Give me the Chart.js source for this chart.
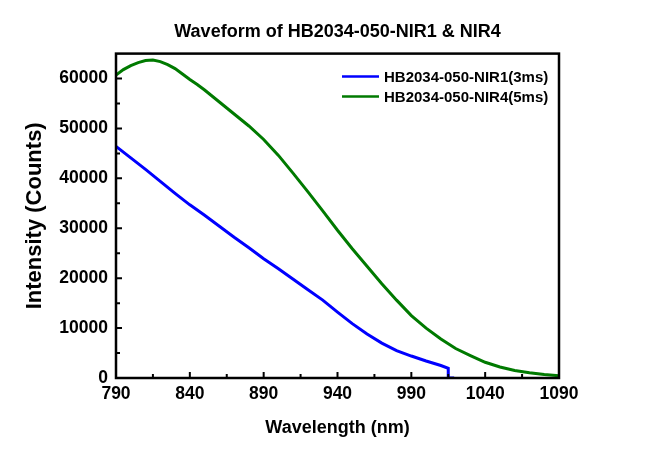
<!DOCTYPE html>
<html>
<head>
<meta charset="utf-8">
<title>Waveform of HB2034-050-NIR1 & NIR4</title>
<script src="https://cdn.jsdelivr.net/npm/chart.js@4.4.1/dist/chart.umd.min.js"></script>
<style>
  html, body { margin: 0; padding: 0; background: #fff; }
  #wrap { width: 650px; height: 455px; position: relative; }
</style>
</head>
<body>
<div id="wrap"><canvas id="waveChart"></canvas></div>
<script>
// NIR1 (3ms) spectrum
const nir1Wavelength = [790, 800, 810, 820, 830, 840, 850, 860, 870, 880, 890, 900, 910, 920, 930, 940, 950, 960, 970, 980, 990, 1000, 1010, 1015, 1015, 1019];
const nir1Counts = [46400, 44100, 41800, 39400, 37000, 34700, 32600, 30400, 28200, 26100, 23900, 21900, 19800, 17700, 15600, 13200, 10900, 8800, 7000, 5500, 4400, 3400, 2500, 1950, 0, 0];

// NIR4 (5ms) spectrum
const nir4Wavelength = [790, 795, 800, 805, 810, 815, 820, 825, 830, 835, 840, 845, 850, 860, 870, 880, 890, 900, 910, 920, 930, 940, 950, 960, 970, 980, 990, 1000, 1010, 1020, 1030, 1040, 1050, 1060, 1070, 1080, 1090];
const nir4Counts = [60700, 61800, 62600, 63200, 63600, 63700, 63400, 62800, 62000, 60900, 59800, 58800, 57700, 55300, 52900, 50500, 47800, 44600, 41000, 37300, 33500, 29600, 25900, 22400, 18900, 15600, 12500, 10000, 7800, 5900, 4500, 3150, 2200, 1500, 1050, 700, 450];

const seriesLabels = ['HB2034-050-NIR1(3ms)', 'HB2034-050-NIR4(5ms)'];
const xTickValues = [790, 840, 890, 940, 990, 1040, 1090];
const yTickValues = [0, 10000, 20000, 30000, 40000, 50000, 60000];

Chart.defaults.font.family = "'Liberation Sans', Arial, sans-serif";
Chart.defaults.color = '#000';

function toPoints(xs, ys) {
  return xs.map((x, i) => ({ x: x, y: ys[i] }));
}

// frame, inward ticks (major + minor) and the legend box inside the plot
const frameAndLegend = {
  id: 'frameAndLegend',
  afterDraw(chart) {
    const ctx = chart.ctx;
    const a = chart.chartArea;
    const x = chart.scales.x;
    const y = chart.scales.y;
    ctx.save();
    ctx.strokeStyle = '#000';
    ctx.lineWidth = 2.5;
    ctx.strokeRect(a.left, a.top, a.right - a.left, a.bottom - a.top);

    ctx.lineWidth = 2;
    ctx.beginPath();
    xTickValues.forEach(v => {
      const px = x.getPixelForValue(v);
      ctx.moveTo(px, a.bottom); ctx.lineTo(px, a.bottom - 6);
      if (v + 25 < x.max) {
        const pm = x.getPixelForValue(v + 25);
        ctx.moveTo(pm, a.bottom); ctx.lineTo(pm, a.bottom - 4);
      }
    });
    yTickValues.forEach(v => {
      const py = y.getPixelForValue(v);
      ctx.moveTo(a.left, py); ctx.lineTo(a.left + 6, py);
      if (v + 5000 < y.max) {
        const pm = y.getPixelForValue(v + 5000);
        ctx.moveTo(a.left, pm); ctx.lineTo(a.left + 4, pm);
      }
    });
    ctx.stroke();

    // legend
    ctx.font = "bold 15px 'Liberation Sans', Arial, sans-serif";
    ctx.textBaseline = 'middle';
    ctx.textAlign = 'left';
    chart.data.datasets.forEach((ds, i) => {
      const ly = a.top + 23 + i * 20;
      ctx.strokeStyle = ds.borderColor;
      ctx.lineWidth = 2.5;
      ctx.beginPath();
      ctx.moveTo(a.right - 217, ly);
      ctx.lineTo(a.right - 180, ly);
      ctx.stroke();
      ctx.fillStyle = '#000';
      ctx.fillText(ds.label, a.right - 175, ly + 1);
    });
    ctx.restore();
  }
};

new Chart(document.getElementById('waveChart'), {
  type: 'scatter',
  data: {
    datasets: [
      {
        label: seriesLabels[0],
        data: toPoints(nir1Wavelength, nir1Counts),
        showLine: true,
        borderColor: '#0000FF',
        borderWidth: 3,
        pointRadius: 0,
        tension: 0
      },
      {
        label: seriesLabels[1],
        data: toPoints(nir4Wavelength, nir4Counts),
        showLine: true,
        borderColor: '#007A00',
        borderWidth: 3,
        pointRadius: 0,
        tension: 0
      }
    ]
  },
  options: {
    responsive: true,
    maintainAspectRatio: false,
    animation: false,
    layout: {
      padding: { left: 0, right: 91, top: 0, bottom: 0 }
    },
    scales: {
      x: {
        type: 'linear',
        min: 790,
        max: 1090,
        afterBuildTicks: s => { s.ticks = xTickValues.map(v => ({ value: v })); },
        afterFit: s => { s.height = 77; },
        grid: { display: false, drawTicks: false },
        border: { display: false },
        ticks: {
          font: { size: 17.5, weight: 'bold' },
          color: '#000',
          padding: 6,
          maxRotation: 0,
          autoSkip: false,
          callback: v => String(v)
        },
        title: {
          display: true,
          text: 'Wavelength (nm)',
          font: { size: 18, weight: 'bold' },
          color: '#000',
          padding: { top: 0, bottom: 16 }
        }
      },
      y: {
        min: 0,
        max: 65000,
        afterBuildTicks: s => { s.ticks = yTickValues.map(v => ({ value: v })); },
        afterFit: s => { s.width = 116; },
        grid: { display: false, drawTicks: false },
        border: { display: false },
        ticks: {
          font: { size: 17.5, weight: 'bold' },
          color: '#000',
          padding: 8,
          callback: v => String(v)
        },
        title: {
          display: true,
          text: 'Intensity (Counts)',
          font: { size: 22, weight: 'bold' },
          color: '#000',
          padding: { top: 22, bottom: 0 }
        }
      }
    },
    plugins: {
      legend: { display: false },
      tooltip: { enabled: false },
      title: {
        display: true,
        fullSize: false,
        text: 'Waveform of HB2034-050-NIR1 & NIR4',
        font: { size: 18, weight: 'bold' },
        color: '#000',
        padding: { top: 21, bottom: 11 }
      }
    }
  },
  plugins: [frameAndLegend]
});
</script>
</body>
</html>
